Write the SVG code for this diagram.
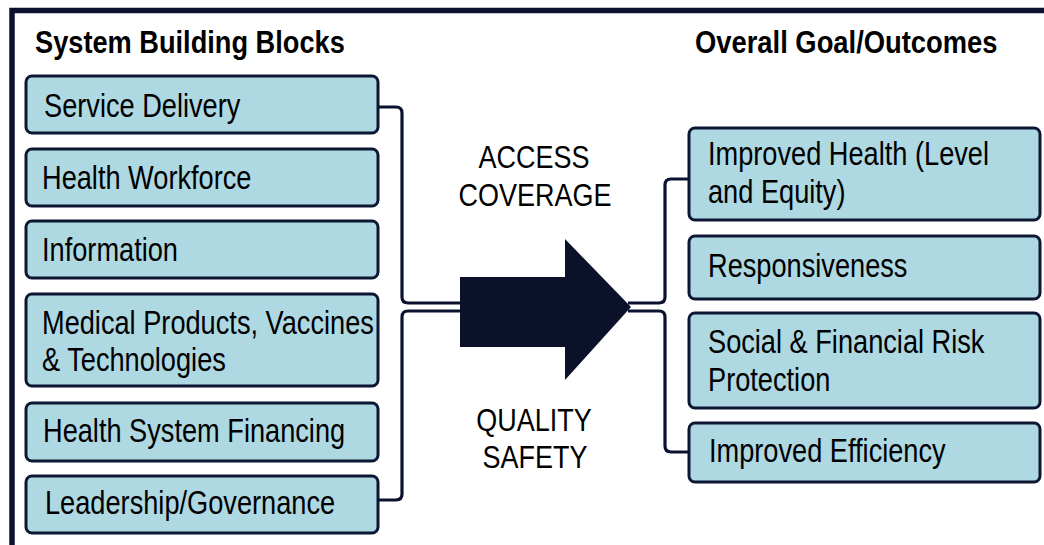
<svg xmlns="http://www.w3.org/2000/svg" width="1044" height="545" viewBox="0 0 1044 545">
<style>
.box{fill:#aed8e2;stroke:#0d1733;stroke-width:3}
.t{font-family:"Liberation Sans",Arial,sans-serif;font-size:34px;fill:#000}
.c{font-family:"Liberation Sans",Arial,sans-serif;font-size:31px;fill:#000;text-anchor:middle}
.h{font-family:"Liberation Sans",Arial,sans-serif;font-size:32px;font-weight:bold;fill:#000}
.ln{fill:none;stroke:#0b1230;stroke-width:3.2}
</style>
<rect x="0" y="0" width="1044" height="545" fill="#fff"/>
<path d="M12,545 V10.5 H1044" fill="none" stroke="#0b1230" stroke-width="5.5"/>
<g id="titles">
<text class="h" transform="translate(35,53) scale(0.85,1)">System Building Blocks</text>
<text class="h" transform="translate(695,53) scale(0.855,1)">Overall Goal/Outcomes</text>
</g>
<g id="connectors">
<path class="ln" d="M378,107 H396 Q402,107 402,113 V297 Q402,303 408,303 H462"/>
<path class="ln" d="M462,311 H408 Q402,311 402,317 V494 Q402,500 396,500 H378"/>
<path class="ln" d="M628,303 H659 Q665,303 665,297 V185 Q665,179 671,179 H690"/>
<path class="ln" d="M628,311 H659 Q665,311 665,317 V446 Q665,452 671,452 H690"/>
</g>
<g id="arrow">
<polygon points="460,277 565,277 565,239 631,307 565,380 565,347 460,347" fill="#0a1128"/>
</g>
<g id="label-access">
<text class="c" transform="translate(534,168) scale(0.87,1)">ACCESS</text>
<text class="c" transform="translate(535,206) scale(0.87,1)">COVERAGE</text>
</g>
<g id="label-quality">
<text class="c" transform="translate(534,431) scale(0.87,1)">QUALITY</text>
<text class="c" transform="translate(535,468) scale(0.87,1)">SAFETY</text>
</g>
<g id="service-delivery">
<rect class="box" x="26" y="76" width="352" height="57" rx="6"/>
<text class="t" transform="translate(44,117) scale(0.8,1)">Service Delivery</text>
</g>
<g id="health-workforce">
<rect class="box" x="26" y="149" width="352" height="57" rx="6"/>
<text class="t" transform="translate(42,189) scale(0.8,1)">Health Workforce</text>
</g>
<g id="information">
<rect class="box" x="26" y="221" width="352" height="57" rx="6"/>
<text class="t" transform="translate(42,261) scale(0.8,1)">Information</text>
</g>
<g id="medical-products">
<rect class="box" x="26" y="294" width="352" height="92" rx="6"/>
<text class="t" transform="translate(42,334) scale(0.8,1)">Medical Products, Vaccines</text>
<text class="t" transform="translate(42,371) scale(0.8,1)">&amp; Technologies</text>
</g>
<g id="health-system-financing">
<rect class="box" x="26" y="403" width="352" height="58" rx="6"/>
<text class="t" transform="translate(43,442) scale(0.8,1)">Health System Financing</text>
</g>
<g id="leadership-governance">
<rect class="box" x="26" y="476" width="352" height="57" rx="6"/>
<text class="t" transform="translate(45,514) scale(0.8,1)">Leadership/Governance</text>
</g>
<g id="improved-health">
<rect class="box" x="689" y="128" width="351" height="92" rx="6"/>
<text class="t" transform="translate(708,165) scale(0.8,1)">Improved Health (Level</text>
<text class="t" transform="translate(708,203) scale(0.8,1)">and Equity)</text>
</g>
<g id="responsiveness">
<rect class="box" x="689" y="236" width="351" height="63" rx="6"/>
<text class="t" transform="translate(708,277) scale(0.8,1)">Responsiveness</text>
</g>
<g id="risk-protection">
<rect class="box" x="689" y="313" width="351" height="95" rx="6"/>
<text class="t" transform="translate(708,353) scale(0.8,1)">Social &amp; Financial Risk</text>
<text class="t" transform="translate(708,391) scale(0.8,1)">Protection</text>
</g>
<g id="improved-efficiency">
<rect class="box" x="689" y="423" width="351" height="59" rx="6"/>
<text class="t" transform="translate(709,462) scale(0.8,1)">Improved Efficiency</text>
</g>
</svg>
